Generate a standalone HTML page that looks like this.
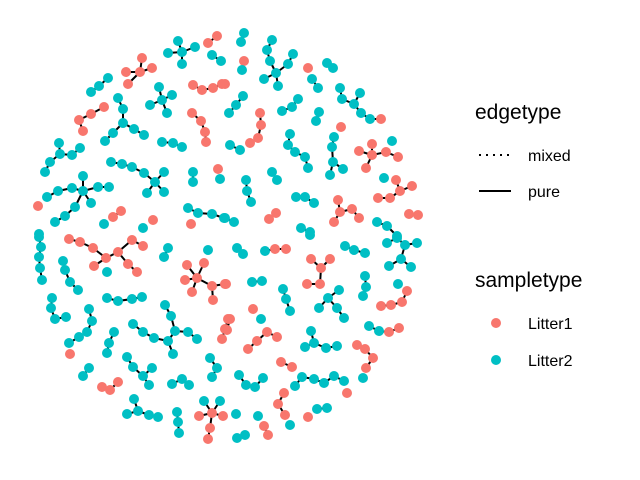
<!DOCTYPE html>
<html><head><meta charset="utf-8"><style>
body{margin:0;background:#fff;}
svg{display:block;font-family:"Liberation Sans",sans-serif;}
</style></head><body>
<svg id="chart" width="640" height="480">
<g id="edges"></g>
<g id="nodes"></g>
<g>
<text x="475" y="119" font-size="21" fill="#000">edgetype</text>
<line x1="479" y1="155" x2="511" y2="155" stroke="#000" stroke-width="2" stroke-dasharray="2,5"/>
<text x="528" y="161" font-size="16">mixed</text>
<line x1="479" y1="191" x2="511" y2="191" stroke="#000" stroke-width="2"/>
<text x="528" y="197" font-size="16">pure</text>
<text x="475" y="287" font-size="21">sampletype</text>
<circle cx="496" cy="323" r="5" fill="#F8766D"/>
<text x="528" y="329" font-size="16">Litter1</text>
<circle cx="496" cy="360" r="5" fill="#00BFC4"/>
<text x="528" y="366" font-size="16">Litter2</text>
</g>
</svg>
<script>
// Each component: nodes [x, y, type(0=Litter1,1=Litter2), parentIndex(-1 = none)]
const components = [
[[182,52,1,-1],[178,41,1,0],[168,53,1,0],[195,47,1,0],[182,64,1,0]],
[[208,43,0,-1],[217,36,0,0]],
[[212,55,1,-1],[221,61,1,0]],
[[140,72,0,-1],[142,58,0,0],[152,68,0,0],[126,72,0,0],[128,84,0,0]],
[[108,78,1,-1],[99,86,1,0],[91,92,1,1]],
[[193,85,0,-1],[202,90,0,0],[213,88,0,1],[222,84,0,2]],
[[162,100,1,-1],[159,87,1,0],[172,95,1,0],[150,105,1,0],[167,113,1,0]],
[[123,123,1,-1],[123,109,1,0],[118,98,1,1],[113,133,1,0],[105,141,1,3],[134,129,1,0],[144,135,1,5]],
[[104,107,0,-1],[91,114,0,0],[79,120,0,1],[83,131,0,2]],
[[192,113,0,-1],[201,121,0,0],[205,132,0,1],[206,142,0,2]],
[[162,142,1,-1],[173,143,1,0],[182,147,1,1]],
[[60,154,1,-1],[59,143,1,0],[72,155,1,0],[80,148,1,2],[50,162,1,0],[45,172,1,4]],
[[155,182,1,-1],[144,173,1,0],[132,167,1,1],[122,164,1,2],[111,162,1,3],[164,172,1,0],[147,193,1,0],[164,192,1,0]],
[[193,172,1,-1],[193,182,1,0]],
[[218,169,0,-1]],[[220,179,1,-1]],
[[83,191,1,-1],[83,176,1,0],[98,187,1,0],[109,187,1,2],[72,188,1,0],[58,191,1,4],[47,197,1,5],[91,203,1,0],[75,207,1,0],[65,216,1,8],[55,222,1,9]],
[[38,206,0,-1]],
[[113,217,0,-1],[121,211,0,0]],[[104,224,1,-1]],
[[153,220,0,-1]],[[143,228,1,-1]],
[[188,208,1,-1],[198,213,1,0],[212,214,1,1],[224,218,1,2]],
[[191,224,0,-1]],
[[244,33,1,-1],[241,42,1,0]],
[[276,73,1,-1],[270,61,1,0],[267,50,1,1],[272,40,1,2],[264,79,1,0],[278,86,1,0],[288,64,1,0],[293,54,1,6]],
[[244,61,0,-1]],[[242,70,1,-1]],[[225,84,0,-1]],[[308,68,0,-1]],
[[327,63,1,-1],[333,68,1,0]],
[[312,79,1,-1],[318,88,1,0]],
[[354,104,1,-1],[342,99,1,0],[340,88,1,1],[360,93,1,0],[361,113,1,0],[370,119,1,4],[381,119,0,5]],
[[243,96,1,-1],[236,105,1,0],[229,113,1,1]],
[[298,99,1,-1],[292,107,1,0],[282,111,1,1]],
[[319,112,1,-1],[316,121,1,0]],
[[260,113,0,-1],[261,125,0,0],[258,138,0,1],[250,143,0,2]],
[[230,145,1,-1],[240,150,1,0]],
[[290,134,1,-1],[288,145,1,0],[295,152,1,1],[305,157,1,2],[308,168,1,3]],
[[341,127,0,-1]],
[[333,162,1,-1],[332,147,1,0],[334,137,1,1],[343,169,1,0],[330,175,1,0]],
[[372,155,0,-1],[372,144,0,0],[359,151,0,0],[366,168,0,0],[386,152,0,0],[398,157,0,4]],
[[392,141,1,-1]],
[[272,172,1,-1],[277,180,1,0]],
[[246,180,1,-1],[247,191,1,0],[251,202,1,1]],
[[384,178,1,-1]],
[[400,191,0,-1],[396,180,0,0],[412,186,0,0],[390,198,0,0],[378,198,0,3]],
[[296,197,1,-1],[305,197,1,0],[314,203,1,1]],
[[340,212,0,-1],[338,200,0,0],[352,209,0,0],[359,218,0,2],[334,222,0,0]],
[[276,213,0,-1],[269,219,0,0]],
[[409,214,0,-1],[418,215,0,0]],
[[377,222,1,-1],[387,226,1,0],[397,236,1,1]],
[[301,228,1,-1],[310,232,1,0]],
[[225,218,1,-1],[234,222,1,0]],
[[39,234,1,-1],[39,237,1,0],[41,247,1,1],[39,257,1,2],[40,268,1,3],[42,280,1,4]],
[[106,258,0,-1],[93,248,0,0],[80,242,0,1],[69,239,0,2],[94,266,0,0],[118,252,0,0],[132,240,0,5],[143,246,0,6],[128,264,0,5],[137,272,0,8]],
[[107,272,1,-1]],
[[168,248,1,-1],[164,257,1,0]],[[208,250,1,-1]],
[[197,278,0,-1],[187,265,0,0],[204,263,0,0],[185,280,0,0],[192,292,0,0],[212,286,0,0],[225,284,0,5],[213,300,0,5]],
[[63,261,1,-1],[65,270,1,0],[70,282,1,1],[78,290,1,2]],
[[107,298,1,-1],[118,301,1,0],[132,299,1,1],[142,297,1,2]],
[[52,298,1,-1],[51,308,1,0],[55,319,1,1],[66,317,1,2]],
[[89,309,1,-1],[92,321,1,0],[87,332,1,1],[79,337,1,2],[69,343,1,3],[70,354,0,-1]],
[[114,332,1,-1],[109,343,1,0],[107,353,1,1]],
[[175,331,1,-1],[168,341,1,0],[154,338,1,1],[143,332,1,2],[133,324,1,3],[171,316,1,0],[165,305,1,5],[188,332,1,0],[197,339,1,7],[173,354,1,1]],
[[228,319,0,-1],[225,329,0,0],[222,339,0,1]],
[[143,376,1,-1],[133,367,1,0],[127,357,1,1],[152,368,1,0],[149,385,1,0]],
[[89,368,1,-1],[83,376,1,0]],
[[110,390,0,-1],[102,387,0,0],[118,382,0,0]],
[[182,379,1,-1],[172,384,1,0],[189,385,1,0]],
[[210,358,1,-1],[217,368,1,0],[212,377,1,1]],
[[138,411,1,-1],[134,399,1,0],[127,414,1,0],[149,415,1,0],[158,417,1,3]],
[[177,412,1,-1],[178,422,1,0],[179,433,1,1]],
[[212,413,0,-1],[204,401,1,0],[220,401,1,0],[199,416,0,0],[223,416,0,0],[210,428,0,0],[208,439,0,5]],
[[310,235,1,-1]],
[[237,248,1,-1],[243,254,1,0]],
[[265,251,1,-1],[275,249,0,0],[286,249,0,1]],
[[321,268,0,-1],[311,259,0,0],[330,259,0,0],[320,284,0,0],[307,284,0,3]],
[[345,246,1,-1],[354,250,1,0],[365,253,1,1]],
[[405,245,1,-1],[397,238,1,0],[387,243,1,1],[417,243,1,0],[401,259,1,0],[389,266,1,4],[411,267,1,4]],
[[226,284,0,-1]],
[[252,282,1,-1],[262,281,1,0]],
[[283,289,1,-1],[286,299,1,0],[290,311,1,1]],
[[328,298,1,-1],[339,290,1,0],[319,308,1,0],[337,308,1,0],[344,318,1,3]],
[[365,276,1,-1],[366,287,1,0],[363,296,1,1]],
[[398,284,1,-1]],
[[407,291,0,-1],[402,302,0,0],[391,305,0,1],[381,306,0,2]],
[[253,309,0,-1]],[[261,319,1,-1]],
[[230,319,0,-1],[227,330,0,0]],
[[267,332,0,-1],[257,341,0,0],[248,349,0,1],[277,337,0,0]],
[[311,331,1,-1],[314,343,1,0],[305,347,1,1],[326,348,1,1],[337,346,1,3]],
[[369,326,1,-1],[379,331,1,0],[389,332,0,1],[399,328,0,2]],
[[357,345,0,-1],[365,349,0,0],[373,358,0,1],[366,368,0,2]],[[363,378,1,-1]],
[[281,362,0,-1],[292,367,0,0]],
[[246,385,1,-1],[239,375,1,0],[255,387,1,0],[263,378,1,2]],
[[295,386,1,-1],[302,377,1,0],[314,379,1,1],[324,383,1,2],[334,376,1,3],[344,381,1,4]],
[[347,393,0,-1]],
[[284,393,0,-1],[278,404,0,0],[285,415,0,1]],[[290,425,1,-1]],
[[308,417,0,-1]],
[[317,409,1,-1],[327,408,1,0]],
[[236,414,1,-1]],[[258,416,1,-1]],
[[264,426,0,-1],[268,435,0,0]],
[[237,438,1,-1],[245,435,1,0]]
];
const typeColors = ["#F8766D","#00BFC4"];
const typeNames = ["litter1","litter2"];
const NS="http://www.w3.org/2000/svg";
const eg=document.getElementById('edges'), ng=document.getElementById('nodes');
components.forEach((comp,ci)=>{
  comp.forEach((n,ni)=>{
    if(n[3]>=0){
      const p=comp[n[3]];
      const l=document.createElementNS(NS,'line');
      l.setAttribute('x1',p[0]);l.setAttribute('y1',p[1]);
      l.setAttribute('x2',n[0]);l.setAttribute('y2',n[1]);
      l.setAttribute('stroke','#000');l.setAttribute('stroke-width','2');
      
      
      eg.appendChild(l);
    }
  });
  comp.forEach((n,ni)=>{
    const c=document.createElementNS(NS,'circle');
    c.setAttribute('cx',n[0]);c.setAttribute('cy',n[1]);c.setAttribute('r','5');
    c.setAttribute('fill',typeColors[n[2]]);
    
    
    ng.appendChild(c);
  });
});
</script>
</body></html>
